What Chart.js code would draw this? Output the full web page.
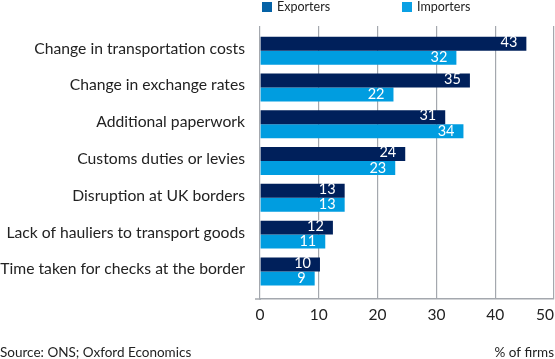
<!DOCTYPE html>
<html>
<head>
<meta charset="utf-8">
<script src="https://cdn.jsdelivr.net/npm/chart.js@4/dist/chart.umd.min.js"></script>
<style>
  html, body { margin: 0; padding: 0; background: #ffffff; }
  #wrap { width: 555px; height: 359px; position: relative; }
</style>
</head>
<body>
<div id="wrap"><canvas id="c" width="555" height="359"></canvas></div>
<script>
const categories = [
  'Change in transportation costs',
  'Change in exchange rates',
  'Additional paperwork',
  'Customs duties or levies',
  'Disruption at UK borders',
  'Lack of hauliers to transport goods',
  'Time taken for checks at the border'
];
// bar lengths as drawn in the picture
const exporterValues = [45.3, 35.7, 31.5, 24.7, 14.4, 12.4, 10.2];
const importerValues = [33.4, 22.7, 34.6, 23.0, 14.4, 11.1, 9.3];
// numbers printed on the bars
const exporterLabels = ['43', '35', '31', '24', '13', '12', '10'];
const importerLabels = ['32', '22', '34', '23', '13', '11', '9'];
const seriesNames = ['Exporters', 'Importers'];
const xTicks = [0, 10, 20, 30, 40, 50];
const sourceText = 'Source: ONS; Oxford Economics';
const unitText = '% of firms';

const barColors = ['#00205b', '#009de0'];
const legendColors = ['#0562a6', '#0aa0e4'];
const textColor = '#222222';
const gridColor = '#a4a8ae';

Chart.defaults.font.family = 'Lato';

const valueLabelPlugin = {
  id: 'valueLabels',
  afterDatasetsDraw(chart) {
    const ctx = chart.ctx;
    const labelSets = [exporterLabels, importerLabels];
    ctx.save();
    ctx.font = '14.5px Lato';
    ctx.fillStyle = '#ffffff';
    ctx.textAlign = 'right';
    ctx.textBaseline = 'middle';
    chart.data.datasets.forEach((ds, i) => {
      const meta = chart.getDatasetMeta(i);
      meta.data.forEach((bar, j) => {
        ctx.fillText(labelSets[i][j], bar.x - 9, bar.y - (i === 0 ? 1.5 : 0));
      });
    });
    ctx.restore();
  }
};

const decorPlugin = {
  id: 'decor',
  beforeDraw(chart) {
    const xs = chart.scales.x;
    const items = xs.getLabelItems();
    const last = items[items.length - 1];
    if (last && !last._shifted) {
      last.options.translation[0] -= 9;
      last._shifted = true;
    }
  },
  afterDraw(chart) {
    const ctx = chart.ctx;
    const area = chart.chartArea;
    ctx.save();
    // axis line stub to the left of zero
    ctx.strokeStyle = gridColor;
    ctx.lineWidth = 1.5;
    ctx.beginPath();
    ctx.moveTo(255, area.bottom);
    ctx.lineTo(area.left + 1, area.bottom);
    ctx.stroke();
    // legend
    ctx.font = '12.5px Lato';
    ctx.textBaseline = 'middle';
    ctx.textAlign = 'left';
    const lx = [262, 402];
    seriesNames.forEach((name, i) => {
      ctx.fillStyle = legendColors[i];
      ctx.fillRect(lx[i], 2, 10, 10);
      ctx.fillStyle = textColor;
      ctx.fillText(name, lx[i] + 15, 7);
    });
    // footer
    ctx.font = '13.5px Lato';
    ctx.textBaseline = 'alphabetic';
    ctx.textAlign = 'left';
    ctx.fillStyle = textColor;
    ctx.fillText(sourceText, 0, 357);
    ctx.textAlign = 'right';
    ctx.fillText(unitText, 554, 357);
    ctx.restore();
  }
};

new Chart(document.getElementById('c'), {
  type: 'bar',
  data: {
    labels: categories,
    datasets: [
      { label: seriesNames[0], data: exporterValues, backgroundColor: barColors[0], borderWidth: 0,
        barPercentage: 1.0, categoryPercentage: 0.76 },
      { label: seriesNames[1], data: importerValues, backgroundColor: barColors[1], borderWidth: 0,
        barPercentage: 1.0, categoryPercentage: 0.76 }
    ]
  },
  options: {
    indexAxis: 'y',
    responsive: false,
    animation: false,
    devicePixelRatio: 1,
    layout: { padding: { top: 26, left: 0, right: 1, bottom: 0 } },
    plugins: {
      legend: { display: false },
      tooltip: { enabled: false }
    },
    scales: {
      x: {
        type: 'linear',
        min: 0,
        max: 50,
        afterBuildTicks: (s) => { s.ticks = xTicks.map(v => ({ value: v })); },
        afterFit: (s) => { s.height = 60; s.paddingLeft = 0; s.paddingRight = 0; },
        grid: { color: gridColor, lineWidth: 1.2, drawTicks: false },
        border: { display: true, color: gridColor, width: 1.5 },
        ticks: { color: textColor, font: { size: 15.5 }, padding: 7, maxRotation: 0 }
      },
      y: {
        afterBuildTicks: (s) => { s._startValue = -0.67; s._valueRange = 7.42; },
        afterFit: (s) => { s.width = 260; },
        grid: { display: false, drawTicks: false },
        border: { display: false },
        ticks: { color: textColor, font: { size: 15.7 }, padding: 15, labelOffset: -2, autoSkip: false }
      }
    }
  },
  plugins: [valueLabelPlugin, decorPlugin]
});
</script>
</body>
</html>
